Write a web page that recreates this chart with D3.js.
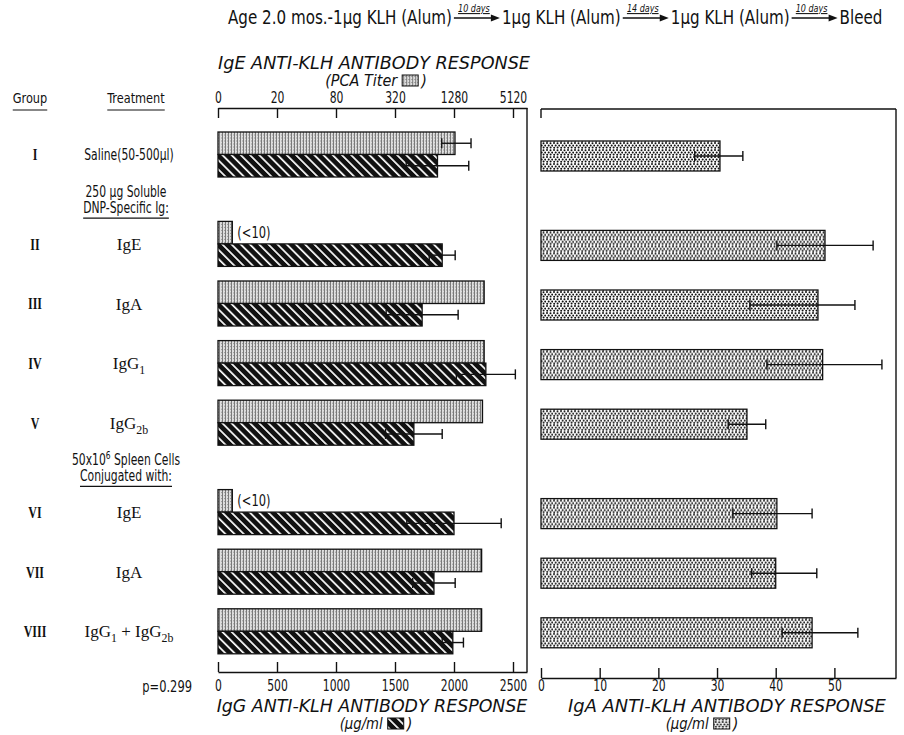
<!DOCTYPE html>
<html>
<head>
<meta charset="utf-8">
<script src="https://cdn.jsdelivr.net/npm/d3@7"></script>
<style>
body { margin: 0; background: #fff; }
svg text { font-family: "Liberation Sans Narrow", "DejaVu Sans Condensed", "DejaVu Sans", sans-serif; font-stretch: condensed; fill: #111; }
svg text.serif { font-family: "Liberation Serif", "DejaVu Serif", serif; font-stretch: normal; }
svg text.ital { font-style: italic; }
.axis text { font-size: 15px; }
.axis path, .axis line { stroke: #111; stroke-width: 1.4; }
</style>
</head>
<body>
<svg width="904" height="735"></svg>
<script>
var groups = ["I", "II", "III", "IV", "V", "VI", "VII", "VIII"];
var treatments = ["Saline(50-500\u03bcl)", "IgE", "IgA", "IgG_1", "IgG_2b", "IgE", "IgA", "IgG_1 + IgG_2b"];
var headingBefore = [1, 5];
var headingLines = [["250 \u03bcg Soluble", "DNP-Specific Ig:"], ["50x10^6 Spleen Cells", "Conjugated with:"]];

// IgE PCA titer (null = no error bar)
var pca = [1310, 7, 2600, 2600, 2500, 7, 2450, 2450];
var pcaLo = [960, null, null, null, null, null, null, null];
var pcaHi = [1910, null, null, null, null, null, null, null];
var pcaNote = [null, "(<10)", null, null, null, "(<10)", null, null];
var pcaTicks = [5, 20, 80, 320, 1280, 5120];
var pcaTickLabels = ["0", "20", "80", "320", "1280", "5120"];

// IgG ug/ml
var igg = [1860, 1900, 1730, 2270, 1660, 2000, 1830, 1990];
var iggErr = [265, 110, 305, 250, 240, 400, 180, 90];
var iggTicks = [0, 500, 1000, 1500, 2000, 2500];

// IgA ug/ml
var iga = [30.5, 48.4, 47.2, 48.0, 35.1, 40.2, 40.0, 46.2];
var igaLo = [26.2, 40.2, 35.6, 38.5, 31.9, 32.7, 35.9, 41.1];
var igaHi = [34.4, 56.6, 53.5, 58.1, 38.3, 46.2, 47.0, 54.0];
var igaTicks = [0, 10, 20, 30, 40, 50];

var headerParts = ["Age 2.0 mos.-1\u03bcg KLH (Alum)", "1\u03bcg KLH (Alum)", "1\u03bcg KLH (Alum)", "Bleed"];
var headerIntervals = ["10 days", "14 days", "10 days"];

var svg = d3.select("svg");
var defs = svg.append("defs");

// squeeze text horizontally around its own x (the original face is a condensed one)
function condense(sel, f) {
    sel.each(function() {
        var x = +this.getAttribute("x") || 0;
        this.setAttribute("transform", "translate(" + x + ",0) scale(" + f + ",1) translate(" + (-x) + ",0)");
    });
    return sel;
}

// patterns
var pGray = defs.append("pattern").attr("id", "pca").attr("patternUnits", "userSpaceOnUse")
    .attr("width", 3).attr("height", 3);
pGray.append("rect").attr("width", 3).attr("height", 3).attr("fill", "#dedede");
pGray.append("rect").attr("width", 1).attr("height", 3).attr("fill", "#7a7a7a");
pGray.append("rect").attr("x", 2).attr("y", 1).attr("width", 1).attr("height", 1).attr("fill", "#999");

var pHatch = defs.append("pattern").attr("id", "igg").attr("patternUnits", "userSpaceOnUse")
    .attr("width", 6.5).attr("height", 6.5).attr("patternTransform", "rotate(-45)");
pHatch.append("rect").attr("width", 6.5).attr("height", 6.5).attr("fill", "#111");
pHatch.append("rect").attr("width", 1.7).attr("height", 6.5).attr("fill", "#fff");

var pDots = defs.append("pattern").attr("id", "iga").attr("patternUnits", "userSpaceOnUse")
    .attr("width", 7).attr("height", 7);
pDots.append("rect").attr("width", 7).attr("height", 7).attr("fill", "#fff");
[[1, 1], [4.5, 1.2], [2.7, 3.4], [6.2, 3.6], [1.2, 5.8], [4.6, 5.6]].forEach(function(p) {
    pDots.append("circle").attr("cx", p[0]).attr("cy", p[1]).attr("r", 1).attr("fill", "#111");
});

// scales
var left0 = 218, leftEnd = 527, step5120 = 513;
var xPca = d3.scaleLog().base(4)
    .domain([5, 5 * Math.pow(4, 5 * (leftEnd - left0) / (step5120 - left0))])
    .range([left0, leftEnd]);
var xIgg = d3.scaleLinear().domain([0, 2500 * (leftEnd - left0) / (step5120 - left0)]).range([left0, leftEnd]);
var xIga = d3.scaleLinear().domain([0, 60.5]).range([541, 896]);

function slot(i) {
    return i + 0.5 * headingBefore.filter(function(b) { return b <= i; }).length;
}
var y = d3.scaleLinear().domain([0, 1]).range([154.5, 154.5 + 59.6]);
var barH = 22.5;

// text with ^sup and _sub
function richText(sel, str, size) {
    var parts = str.split(/(\^\w+|_\w+)/), back = 0;
    parts.forEach(function(p) {
        if (!p) return;
        if (p[0] === "^" || p[0] === "_") {
            var d = p[0] === "^" ? -size * 0.4 : size * 0.3;
            sel.append("tspan").attr("font-size", size * 0.7).attr("dy", d + back).text(p.slice(1));
            back = -d;
        } else {
            sel.append("tspan").attr("dy", back || null).text(p);
            back = 0;
        }
    });
}

// header line with arrows
var header = svg.append("g");
function layoutHeader(fs) {
    header.selectAll("*").remove();
    var x = 0;
    headerParts.forEach(function(t, i) {
        var tx = header.append("text").attr("x", x).attr("y", 24).attr("font-size", fs).text(t);
        var w = tx.node().getComputedTextLength() * 0.84;
        tx.attr("x", 0).attr("transform", "translate(" + x + ",0) scale(0.84,1)");
        x += w + 2;
        if (i < headerIntervals.length) {
            var aw = 46;
            header.append("line").attr("x1", x).attr("x2", x + aw - 6).attr("y1", 18).attr("y2", 18)
                .attr("stroke", "#111").attr("stroke-width", 1.3);
            header.append("path").attr("d", "M" + (x + aw) + ",18 l-9,-3.5 v7 z").attr("fill", "#111");
            var lab = header.append("text").attr("class", "ital").attr("x", x + aw / 2 - 3).attr("y", 12)
                .attr("text-anchor", "middle").attr("font-size", 10.5).style("text-decoration", "underline")
                .text(headerIntervals[i]);
            condense(lab, 0.85);
            x += aw + 2;
        }
    });
    return x;
}
var hw = layoutHeader(18);
hw = layoutHeader(18 * 674 / hw);
header.attr("transform", "translate(228,0)");

// column headers
[["Group", 30], ["Treatment", 136]].forEach(function(h) {
    var t = svg.append("text").attr("x", h[1]).attr("y", 103).attr("text-anchor", "middle")
        .attr("font-size", 14).text(h[0]);
    var w = t.node().getComputedTextLength() * 0.9;
    condense(t, 0.9);
    svg.append("line").attr("x1", h[1] - w / 2).attr("x2", h[1] + w / 2).attr("y1", 110).attr("y2", 110)
        .attr("stroke", "#111").attr("stroke-width", 1.2);
});

// row labels
groups.forEach(function(g, i) {
    var yc = y(slot(i));
    var n = svg.append("text").attr("class", "serif").attr("x", 35).attr("y", yc + 6)
        .attr("text-anchor", "middle").attr("font-size", 16).attr("font-weight", "bold").text(g);
    condense(n, 0.75);
    var t = svg.append("text").attr("x", 129).attr("y", yc + 6).attr("text-anchor", "middle");
    if (i === 0) { t.attr("font-size", 15).text(treatments[i]); condense(t, 0.8); }
    else { t.attr("class", "serif").attr("font-size", 17); richText(t, treatments[i], 17); }
});

// section headings
headingBefore.forEach(function(b, k) {
    var yc = (y(slot(b - 1)) + y(slot(b))) / 2;
    var w = 0;
    headingLines[k].forEach(function(line, j) {
        var t = svg.append("text").attr("x", 126).attr("y", yc - 2 + j * 16).attr("text-anchor", "middle")
            .attr("font-size", 15);
        richText(t, line, 15);
        w = t.node().getComputedTextLength() * 0.8;
        condense(t, 0.8);
    });
    svg.append("line").attr("x1", 126 - w / 2).attr("x2", 126 + w / 2)
        .attr("y1", yc + 19).attr("y2", yc + 19).attr("stroke", "#111").attr("stroke-width", 1.2);
});

// ---- left panel ----
var topAx = svg.append("g").attr("class", "axis").attr("transform", "translate(0,108)")
    .call(d3.axisTop(xPca).tickValues(pcaTicks).tickSizeInner(-10).tickSizeOuter(0).tickPadding(5)
        .tickFormat(function(d, i) { return pcaTickLabels[i]; }));
var botAx = svg.append("g").attr("class", "axis").attr("transform", "translate(0,672)")
    .call(d3.axisBottom(xIgg).tickValues(iggTicks).tickSizeInner(-10).tickSizeOuter(0).tickPadding(8)
        .tickFormat(d3.format("d")));
svg.append("line").attr("x1", leftEnd).attr("x2", leftEnd).attr("y1", 108).attr("y2", 672)
    .attr("stroke", "#111").attr("stroke-width", 1.4);

var rows = svg.append("g").selectAll("g").data(groups).enter().append("g")
    .attr("transform", function(d, i) { return "translate(0," + y(slot(i)) + ")"; });

rows.append("rect").attr("x", left0).attr("y", -barH)
    .attr("width", function(d, i) { return xPca(pca[i]) - left0; }).attr("height", barH)
    .attr("fill", "url(#pca)").attr("stroke", "#111").attr("stroke-width", 1.3);
rows.append("rect").attr("x", left0).attr("y", 0)
    .attr("width", function(d, i) { return xIgg(igg[i]) - left0; }).attr("height", barH)
    .attr("fill", "url(#igg)").attr("stroke", "#111").attr("stroke-width", 1.3);

condense(rows.filter(function(d, i) { return pcaNote[i]; }).append("text")
    .attr("x", function(d) { return xPca(pca[groups.indexOf(d)]) + 5; }).attr("y", -6)
    .attr("font-size", 15).text(function(d) { return pcaNote[groups.indexOf(d)]; }), 0.85);

function whisker(sel, x1, x2, yy) {
    sel.append("line").attr("x1", x1).attr("x2", x2).attr("y1", yy).attr("y2", yy)
        .attr("stroke", "#111").attr("stroke-width", 1.4);
    [x1, x2].forEach(function(x) {
        sel.append("line").attr("x1", x).attr("x2", x).attr("y1", yy - 5).attr("y2", yy + 5)
            .attr("stroke", "#111").attr("stroke-width", 1.4);
    });
}
rows.each(function(d, i) {
    var g = d3.select(this);
    if (pcaLo[i] != null) whisker(g, xPca(pcaLo[i]), xPca(pcaHi[i]), -barH / 2);
    whisker(g, xIgg(igg[i] - iggErr[i]), xIgg(igg[i] + iggErr[i]), barH / 2);
});

// ---- right panel ----
svg.append("line").attr("x1", 541).attr("x2", 896).attr("y1", 109).attr("y2", 109)
    .attr("stroke", "#111").attr("stroke-width", 1.4);
svg.append("line").attr("x1", 541).attr("x2", 541).attr("y1", 109).attr("y2", 118)
    .attr("stroke", "#111").attr("stroke-width", 1.4);
svg.append("line").attr("x1", 896).attr("x2", 896).attr("y1", 109).attr("y2", 678)
    .attr("stroke", "#111").attr("stroke-width", 1.4);
var rAx = svg.append("g").attr("class", "axis").attr("transform", "translate(0,678)")
    .call(d3.axisBottom(xIga).tickValues(igaTicks).tickSizeInner(-10).tickSizeOuter(0).tickPadding(2));

[topAx, botAx, rAx].forEach(function(a) { condense(a.selectAll("text"), 0.8); });

var rrows = svg.append("g").selectAll("g").data(groups).enter().append("g")
    .attr("transform", function(d, i) { return "translate(0," + (y(slot(i)) + 1.5) + ")"; });
rrows.append("rect").attr("x", xIga(0)).attr("y", -15)
    .attr("width", function(d, i) { return xIga(iga[i]) - xIga(0); }).attr("height", 30)
    .attr("fill", "url(#iga)").attr("stroke", "#111").attr("stroke-width", 1.3);
rrows.each(function(d, i) {
    whisker(d3.select(this), xIga(igaLo[i]), xIga(igaHi[i]), 0);
});

// ---- axis titles ----
function title(x, yy, str, width) {
    var t = svg.append("text").attr("class", "ital").attr("x", x).attr("y", yy).attr("text-anchor", "middle")
        .attr("font-size", 17).text(str);
    condense(t, width / t.node().getComputedTextLength());
}
function unitLine(cx, yy, pre, pat, f) {
    var g = svg.append("g");
    var t1 = g.append("text").attr("class", "ital").attr("x", 0).attr("y", yy).attr("font-size", 16).text(pre);
    var w = t1.node().getComputedTextLength() * f;
    condense(t1, f);
    g.append("rect").attr("x", w + 5).attr("y", yy - 11).attr("width", 16).attr("height", 11)
        .attr("fill", "url(#" + pat + ")").attr("stroke", "#111").attr("stroke-width", 1);
    var t2 = g.append("text").attr("class", "ital").attr("x", w + 24).attr("y", yy).attr("font-size", 16).text(")");
    var total = w + 24 + t2.node().getComputedTextLength();
    g.attr("transform", "translate(" + (cx - total / 2) + ",0)");
}
title(374, 69, "IgE ANTI-KLH ANTIBODY RESPONSE", 312);
unitLine(376, 86, "(PCA Titer", "pca", 1);
title(372, 712, "IgG ANTI-KLH ANTIBODY RESPONSE", 311);
unitLine(376, 729, "(\u03bcg/ml", "igg", 0.92);
title(727, 712, "IgA ANTI-KLH ANTIBODY RESPONSE", 318);
unitLine(702, 729, "(\u03bcg/ml", "iga", 0.92);

condense(svg.append("text").attr("x", 192).attr("y", 692).attr("text-anchor", "end").attr("font-size", 15)
    .text("p=0.299"), 0.85);
</script>
</body>
</html>
